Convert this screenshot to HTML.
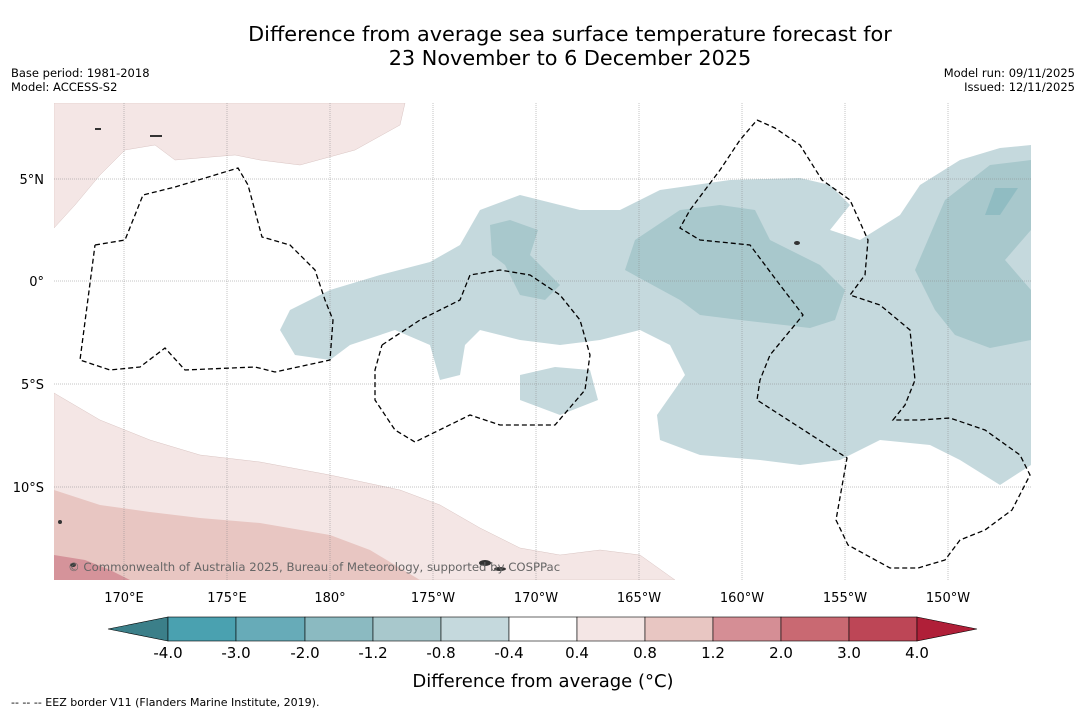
<!DOCTYPE html>
<html><head><meta charset="utf-8"><style>
body{margin:0;width:1085px;height:713px;background:#fff;font-family:"DejaVu Sans","Liberation Sans",sans-serif;overflow:hidden;position:relative}
.t{position:absolute;color:#000;white-space:nowrap}
</style></head><body>
<div class="t" style="left:0;width:1140px;top:22px;text-align:center;font-size:20.8px;line-height:24px">Difference from average sea surface temperature forecast for<br>23 November to 6 December 2025</div>
<div class="t" style="left:11px;top:66px;font-size:11.5px;line-height:14px">Base period: 1981-2018<br>Model: ACCESS-S2</div>
<div class="t" style="right:10px;top:66px;font-size:11.5px;line-height:14px;text-align:right">Model run: 09/11/2025<br>Issued: 12/11/2025</div>
<svg width="1085" height="713" style="position:absolute;left:0;top:0">
<defs><clipPath id="c"><rect x="54" y="103" width="977" height="477"/></clipPath></defs>
<g clip-path="url(#c)">
<polygon fill="#f4e6e5" stroke="#d9c4c2" stroke-width="0.5" points="54,103 405,103 400,125 355,150 300,165 260,160 235,155 175,160 155,145 125,150 100,175 75,205 54,228"/>
<polygon fill="#f4e6e5" stroke="#d9c4c2" stroke-width="0.5" points="54,393 100,420 150,440 200,455 260,462 330,475 400,490 440,505 480,528 520,548 560,555 600,550 640,555 675,580 54,580"/>
<polygon fill="#e8c6c2" points="54,490 100,505 150,512 200,518 260,523 330,535 370,550 395,565 420,580 54,580"/>
<polygon fill="#d5939a" points="54,555 85,560 110,570 130,580 54,580"/>
<polygon fill="#c5d9dd" points="280,330 290,310 330,290 380,275 430,262 460,245 480,210 520,195 580,210 620,210 660,190 730,180 800,178 830,185 850,205 830,230 860,240 900,215 920,185 960,160 1000,148 1031,145 1031,465 1000,485 960,460 930,445 880,440 840,460 800,465 760,460 700,455 660,440 657,415 685,375 670,345 640,330 600,340 560,345 520,340 480,330 465,345 460,375 440,380 430,345 395,330 350,345 330,360 295,355"/>
<polygon fill="#c5d9dd" points="520,375 555,367 590,370 598,400 560,415 520,400"/>
<polygon fill="#a8c8cc" points="625,270 635,240 680,210 720,205 755,210 770,240 820,265 845,290 835,320 810,328 740,320 700,315 680,300"/>
<polygon fill="#a8c8cc" points="490,225 510,220 538,230 530,255 560,285 545,300 520,295 505,265 492,255"/>
<polygon fill="#a8c8cc" points="915,270 945,200 990,165 1031,160 1031,230 1005,260 1031,290 1031,340 990,348 955,335 935,310"/>
<polygon fill="#90bcc2" points="985,215 995,188 1018,188 1000,215"/>
</g>
<g stroke="#888" stroke-width="0.5" stroke-dasharray="1,1">
<line x1="124" y1="103" x2="124" y2="580"/><line x1="227" y1="103" x2="227" y2="580"/><line x1="330" y1="103" x2="330" y2="580"/><line x1="433" y1="103" x2="433" y2="580"/><line x1="536" y1="103" x2="536" y2="580"/><line x1="639" y1="103" x2="639" y2="580"/><line x1="742" y1="103" x2="742" y2="580"/><line x1="845" y1="103" x2="845" y2="580"/><line x1="948" y1="103" x2="948" y2="580"/>
<line x1="54" y1="179" x2="1031" y2="179"/><line x1="54" y1="281" x2="1031" y2="281"/><line x1="54" y1="384" x2="1031" y2="384"/><line x1="54" y1="487" x2="1031" y2="487"/>
</g>
<g fill="none" stroke="#000" stroke-width="1.3" stroke-dasharray="5,3">
<polyline points="95,245 125,240 143,195 175,187 215,175 238,168 248,185 262,237 290,245 315,270 325,300 333,320 330,360 275,372 255,367 185,370 165,348 140,367 110,370 80,360 95,245"/>
<polyline points="382,345 420,320 460,300 470,275 500,270 530,275 560,295 580,320 590,355 585,390 555,425 500,425 470,415 415,442 395,430 375,400 375,370 382,345"/>
<polyline points="757,120 775,128 800,145 822,180 850,200 868,240 865,275 850,295 880,305 910,330 915,380 905,405 893,420 920,420 950,418 985,430 1020,455 1030,475 1012,510 985,530 960,540 945,560 918,568 890,568 848,545 836,520 847,458 757,400 760,380 770,355 803,315 780,285 750,245 700,240 680,228 690,210 720,170 740,140 757,120"/>
</g>
<g fill="#333">
<ellipse cx="485" cy="563" rx="6" ry="3"/><ellipse cx="500" cy="569" rx="6" ry="2"/><ellipse cx="73" cy="565" rx="3" ry="2"/><ellipse cx="60" cy="522" rx="2" ry="2"/><ellipse cx="797" cy="243" rx="3" ry="2"/><rect x="150" y="135" width="12" height="2"/><rect x="95" y="128" width="6" height="2"/>
</g>
<text x="68" y="571" font-size="11.7" fill="#666" font-family="DejaVu Sans, Liberation Sans, sans-serif">© Commonwealth of Australia 2025, Bureau of Meteorology, supported by COSPPac</text>
<g font-size="13" fill="#000" font-family="DejaVu Sans, Liberation Sans, sans-serif">
<text x="124" y="602" text-anchor="middle">170°E</text><text x="227" y="602" text-anchor="middle">175°E</text><text x="330" y="602" text-anchor="middle">180°</text><text x="433" y="602" text-anchor="middle">175°W</text><text x="536" y="602" text-anchor="middle">170°W</text><text x="639" y="602" text-anchor="middle">165°W</text><text x="742" y="602" text-anchor="middle">160°W</text><text x="845" y="602" text-anchor="middle">155°W</text><text x="948" y="602" text-anchor="middle">150°W</text>
<text x="44" y="184" text-anchor="end">5°N</text><text x="44" y="286" text-anchor="end">0°</text><text x="44" y="389" text-anchor="end">5°S</text><text x="44" y="492" text-anchor="end">10°S</text>
</g>
<g stroke="#000" stroke-width="0.6">
<polygon points="108,629 168,617 168,641" fill="#3b7f89"/>
<rect x="168" y="617" width="68" height="24" fill="#4aa1b0"/><rect x="236" y="617" width="69" height="24" fill="#67abb8"/><rect x="305" y="617" width="68" height="24" fill="#8bbac1"/><rect x="373" y="617" width="68" height="24" fill="#a8c8cc"/><rect x="441" y="617" width="68" height="24" fill="#c5d9dd"/><rect x="509" y="617" width="68" height="24" fill="#ffffff"/><rect x="577" y="617" width="68" height="24" fill="#f4e6e5"/><rect x="645" y="617" width="68" height="24" fill="#e8c6c2"/><rect x="713" y="617" width="68" height="24" fill="#d58e95"/><rect x="781" y="617" width="68" height="24" fill="#c96972"/><rect x="849" y="617" width="68" height="24" fill="#bd4656"/>
<polygon points="917,617 977,629 917,641" fill="#b01f38"/>
</g>
<g font-size="15" fill="#000" text-anchor="middle" font-family="DejaVu Sans, Liberation Sans, sans-serif">
<text x="168" y="658">-4.0</text><text x="236" y="658">-3.0</text><text x="305" y="658">-2.0</text><text x="373" y="658">-1.2</text><text x="441" y="658">-0.8</text><text x="509" y="658">-0.4</text><text x="577" y="658">0.4</text><text x="645" y="658">0.8</text><text x="713" y="658">1.2</text><text x="781" y="658">2.0</text><text x="849" y="658">3.0</text><text x="917" y="658">4.0</text>
</g>
<text x="543" y="687" font-size="18" text-anchor="middle" font-family="DejaVu Sans, Liberation Sans, sans-serif">Difference from average (°C)</text>
<text x="11" y="706" font-size="11" font-family="DejaVu Sans, Liberation Sans, sans-serif">--  --  -- EEZ border V11 (Flanders Marine Institute, 2019).</text>
</svg>
</body></html>
